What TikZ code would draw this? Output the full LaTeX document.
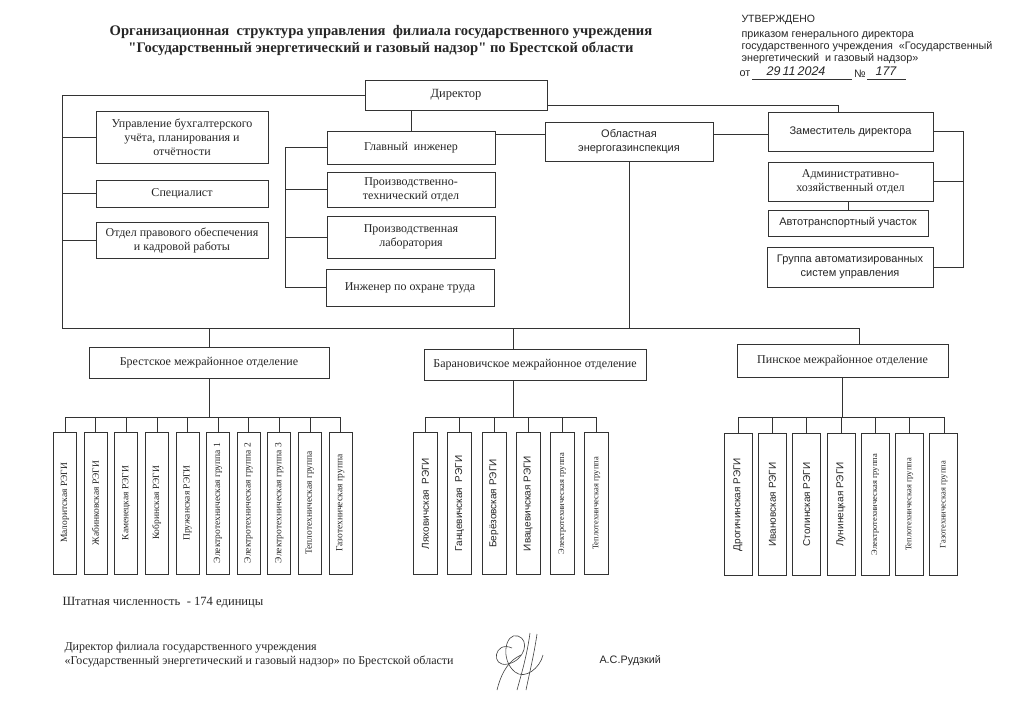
\documentclass[tikz,border=0pt]{standalone}
\usepackage{fontspec}
\setmainfont{Liberation Serif}
\setsansfont{Liberation Sans}
\newfontfamily\titlefont{Liberation Serif}
\tikzset{box/.style = {draw=black!80, line width=.7pt, align=center, inner sep=1pt,
    font=\fontsize{12}{14}\selectfont},
  vbox/.style = {draw=black!80, line width=.7pt, minimum height=142pt, inner sep=0pt},
  link/.style = {draw=black!80, line width=.6pt}}
\newcommand\vser{\fontsize{9.5}{11}\selectfont}
\newcommand\vsml{\fontsize{8.5}{10}\selectfont}
\newcommand\vsan{\sffamily\fontsize{10}{11}\selectfont}

\begin{document}
\begin{tikzpicture}[x=1pt, y=-1pt, text=black!85]
      \useasboundingbox (0,0) rectangle (1024,703);
      \fill [white] (0,0) rectangle (1024,703);
      % heading and approval
      \node (title) [align=center, font=\titlefont\fontsize{14.6}{17}\selectfont\bfseries] at (381,41)
        {Организационная\ \ структура управления\ \ филиала государственного учреждения\\
         "Государственный энергетический и газовый надзор" по Брестской области};
      \node (utv) [anchor=west, font=\sffamily\fontsize{10.5}{12}\selectfont] at (738,20) {УТВЕРЖДЕНО};
      \node (prikaz) [anchor=west, align=left, font=\sffamily\fontsize{10.8}{12}\selectfont] at (738,48)
        {приказом генерального директора\\
         государственного учреждения\ \ «Государственный\\
         энергетический\ \ и газовый надзор»};
      \node (ot) [anchor=west, font=\sffamily\fontsize{10.8}{12}\selectfont] at (736,74) {от};
      \node (date) [font=\sffamily\itshape\fontsize{12.5}{12}\selectfont] at (796,71) {29\,11\,2024};
      \node (no) [font=\sffamily\fontsize{10.8}{12}\selectfont] at (860,74) {№};
      \node (num) [font=\sffamily\itshape\fontsize{12.5}{12}\selectfont] at (886,71) {177};
      \draw [link] (752,79) -- (852,79) (867,79) -- (906,79);
      % upper part
      \node (dir) [box, font=\fontsize{12.5}{14}\selectfont, minimum width=182pt, minimum height=30pt] at (456,95) {Директор};
      \node (buh) [box, minimum width=172pt, minimum height=52pt] at (182,137)
        {Управление бухгалтерского\\учёта, планирования и\\отчётности};
      \node (spec) [box, minimum width=172pt, minimum height=27pt] at (182,193.5) {Специалист};
      \node (pravo) [box, minimum width=172pt, minimum height=36pt] at (182,240)
        {Отдел правового обеспечения\\и кадровой работы};
      \node (glav) [box, minimum width=168pt, minimum height=33pt] at (411,147.5) {Главный\ \ инженер};
      \node (pto) [box, minimum width=168pt, minimum height=35pt] at (411,189.5)
        {Производственно-\\технический отдел};
      \node (lab) [box, minimum width=168pt, minimum height=42pt] at (411,237)
        {Производственная\\лаборатория};
      \node (ohr) [box, minimum width=168pt, minimum height=37pt] at (410,287.5) {Инженер по охране труда};
      \node (obl) [box, font=\sffamily\fontsize{11}{14}\selectfont, minimum width=168pt, minimum height=39pt]
        at (629,141.5) {Областная\\энергогазинспекция};
      \node (zam) [box, font=\sffamily\fontsize{11}{14}\selectfont, minimum width=165pt, minimum height=39pt]
        at (850.5,131.5) {Заместитель директора};
      \node (ahd) [box, minimum width=165pt, minimum height=39pt] at (850.5,181.5)
        {Административно-\\хозяйственный отдел};
      \node (avto) [box, font=\sffamily\fontsize{11}{14}\selectfont, minimum width=160pt, minimum height=26pt]
        at (848,223) {Автотранспортный участок};
      \node (asu) [box, font=\sffamily\fontsize{11}{14}\selectfont, minimum width=166pt, minimum height=40pt]
        at (850,267) {Группа автоматизированных\\систем управления};
      % departments
      \node (brest) [box, minimum width=240pt, minimum height=31pt] at (209,362.5)
        {Брестское межрайонное отделение};
      \node (baran) [box, minimum width=222pt, minimum height=31pt] at (535,364.5)
        {Барановичское межрайонное отделение};
      \node (pinsk) [box, minimum width=211pt, minimum height=33pt] at (842.5,360.5)
        {Пинское межрайонное отделение};
      \coordinate (lb) at (62,328);
      \coordinate (rb) at (859,328);
      \coordinate (gx) at (285,0);
      \coordinate (rx) at (963,0);
      \coordinate (hy) at (0,134);
      \coordinate (bx) at (513,0);
      \coordinate (bus) at (0,417);
      \draw [link] (dir.west) -| (lb) -- (rb) -- (rb |- pinsk.north);
      \draw [link] (buh.west -| lb) -- (buh.west);
      \draw [link] (spec.west -| lb) -- (spec.west);
      \draw [link] (pravo.west -| lb) -- (pravo.west);
      \draw [link] (dir.south -| glav.north) -- (glav.north);
      \draw [link] (glav.east |- hy) -- (obl.west |- hy);
      \draw [link] (obl.east |- hy) -- (zam.west |- hy);
      \draw [link] ([yshift=-10pt]dir.east) -| ([xshift=-12pt]zam.north);
      \draw [link] (zam.east) -- (zam.east -| rx) |- (asu.east);
      \draw [link] (ahd.east) -- (ahd.east -| rx);
      \draw [link] (avto.north) -- (avto.north |- ahd.south);
      \draw [link] (glav.west) -- (glav.west -| gx) |- (ohr.west);
      \draw [link] (pto.west -| gx) -- (pto.west);
      \draw [link] (lab.west -| gx) -- (lab.west);
      \draw [link] (obl.south) -- (obl.south |- lb);
      \draw [link] (brest.north) -- (brest.north |- lb);
      \draw [link] (bx |- baran.north) -- (bx |- lb);
      % Brest
      \foreach \f/\t [count=\i from 0] in {\vser/Малоритская РЭГИ, \vser/Жабинковская РЭГИ,
          \vser/Каменецкая РЭГИ, \vser/Кобринская РЭГИ, \vser/Пружанская РЭГИ,
          \vser/Электротехническая группа 1, \vser/Электротехническая группа 2,
          \vser/Электротехническая группа 3, \vser/Теплотехническая группа,
          \vser/Газотехническая группа}
        {\node (br\i) [vbox, minimum width=23pt] at ({65+30.6*\i},503) {\rotatebox{90}{\f\t}};
         \draw [link] (br\i.north) -- (br\i.north |- bus);}
      \draw [link] (br0.north |- bus) -- (br9.north |- bus);
      \draw [link] (brest.south) -- (brest.south |- bus);
      % Baranovichi
      \foreach \f/\t [count=\i from 0] in {\vsan/Ляховичская\ \ РЭГИ, \vsan/Ганцевичская\ \ РЭГИ,
          \vsan/Берёзовская РЭГИ, \vsan/Ивацевичская РЭГИ,
          \vsml/Электротехническая группа, \vsml/Теплотехническая группа}
        {\node (ba\i) [vbox, minimum width=24pt] at ({425.5+34.2*\i},503.5) {\rotatebox{90}{\f\t}};
         \draw [link] (ba\i.north) -- (ba\i.north |- bus);}
      \draw [link] (ba0.north |- bus) -- (ba5.north |- bus);
      \draw [link] (bx |- baran.south) -- (bx |- bus);
      % Pinsk
      \foreach \f/\t [count=\i from 0] in {\vsan/Дрогичинская РЭГИ, \vsan/Ивановская РЭГИ,
          \vsan/Столинская РЭГИ, \vsan/Лунинецкая РЭГИ,
          \vsml/Электротехническая группа, \vsml/Теплотехническая группа,
          \vsml/Газотехническая группа}
        {\node (pi\i) [vbox, minimum width=28pt] at ({738+34.3*\i},504.5) {\rotatebox{90}{\f\t}};
         \draw [link] (pi\i.north) -- (pi\i.north |- bus);}
      \draw [link] (pi0.north |- bus) -- (pi6.north |- bus);
      \draw [link] (pinsk.south) -- (pinsk.south |- bus);
      % footer
      \node (staff) [anchor=west, font=\fontsize{12.6}{13}\selectfont] at (59,603)
        {Штатная численность\ \ - 174 единицы};
      \node (sign) [anchor=west, align=left, font=\fontsize{12}{13.5}\selectfont] at (61,654.5)
        {Директор филиала государственного учреждения\\
         «Государственный энергетический и газовый надзор» по Брестской области};
      \node (name) [anchor=west, font=\sffamily\fontsize{10.8}{12}\selectfont] at (596,661) {А.С.Рудзкий};
      \draw [black!75, line width=.6pt]
        (512,648) .. controls (494,640) and (490,668) .. (508,664)
        .. controls (525,660) and (530,640) .. (518,636)
        .. controls (505,632) and (500,660) .. (515,672)
        .. controls (525,680) and (540,668) .. (543,655);
      \draw [black!75, line width=.6pt] (530,633) .. controls (527,655) and (522,672) .. (517,690);
      \draw [black!75, line width=.6pt] (537,634) .. controls (534,655) and (529,675) .. (526,690);
      \draw [black!75, line width=.6pt] (497,690) .. controls (502,670) and (510,660) .. (521,655);
    \end{tikzpicture}
\end{document}
